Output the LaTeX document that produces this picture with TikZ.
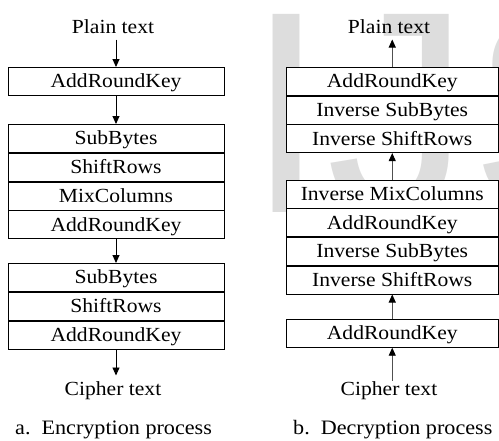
\documentclass[tikz,border=0pt]{standalone}
\usepackage{fontspec}
\setmainfont{Liberation Serif}[FakeStretch=1.08]
\newfontfamily\markfont{Liberation Sans}
\usetikzlibrary{arrows.meta}
\definecolor{markgray}{RGB}{221,221,221}
\definecolor{shaftgray}{RGB}{80,80,80}
\tikzset{
  stage/.style={draw=black, fill=white, line width=0.9pt, inner sep=0pt,
    text height=13pt, text depth=0pt, font=\fontsize{20}{24}\selectfont},
  encstage/.style={stage, minimum width=216pt, minimum height=27.9pt, anchor=north},
  decstage/.style={stage, minimum width=212.5pt, minimum height=27.8pt, anchor=north},
  endtext/.style={inner sep=0pt, outer sep=1.5pt, text height=13pt, text depth=5pt,
    anchor=base, font=\fontsize{20}{24}\selectfont},
  captiontext/.style={inner sep=0pt, anchor=base west, font=\fontsize{20.5}{24}\selectfont},
  downarrow/.style={line width=0.9pt, -{Triangle[width=7pt,length=8pt]}},
  uparrow/.style={line width=0.9pt, draw=shaftgray, -{Triangle[width=7pt,length=8pt,color=black]}},
}
\begin{document}
\begin{tikzpicture}[x=1pt,y=-1pt]
\useasboundingbox (0,0) rectangle (499,440);
\fill[white] (0,0) rectangle (499,440);
% faint background lettering
\node[anchor=base west, inner sep=0pt, text=markgray,
  font=\markfont\fontsize{288}{288}\selectfont] (mark) at (246,212) {IJS};

% ---------- encryption ----------
\node[endtext] (ptL) at (113,33) {Plain text};
\node[encstage] (e1) at (116,67) {AddRoundKey};
\node[encstage] (e2a) at (116,124) {SubBytes};
\node[encstage] (e2b) at (e2a.south) {ShiftRows};
\node[encstage] (e2c) at (e2b.south) {MixColumns};
\node[encstage] (e2d) at (e2c.south) {AddRoundKey};
\node[encstage] (e3a) at (116,263) {SubBytes};
\node[encstage] (e3b) at (e3a.south) {ShiftRows};
\node[encstage] (e3c) at (e3b.south) {AddRoundKey};
\node[endtext] (ctL) at (113,395) {Cipher text};
\node[captiontext] (capL) at (15,434) {a.\ \ Encryption process};

\draw[downarrow] (e1.north |- ptL.south) -- (e1.north);
\draw[downarrow] (e1.south) -- (e2a.north);
\draw[downarrow] (e2d.south) -- (e3a.north);
\draw[downarrow, shorten >=5pt] (e3c.south) -- (e3c.south |- ctL.north);

% ---------- decryption ----------
\node[endtext] (ptR) at (389,33) {Plain text};
\node[decstage] (d1a) at (392.25,67) {AddRoundKey};
\node[decstage] (d1b) at (d1a.south) {Inverse SubBytes};
\node[decstage] (d1c) at (d1b.south) {Inverse ShiftRows};
\node[decstage] (d2a) at (392.25,179.7) {Inverse MixColumns};
\node[decstage] (d2b) at (d2a.south) {AddRoundKey};
\node[decstage] (d2c) at (d2b.south) {Inverse SubBytes};
\node[decstage] (d2d) at (d2c.south) {Inverse ShiftRows};
\node[decstage] (d3) at (392.25,319) {AddRoundKey};
\node[endtext] (ctR) at (389,395) {Cipher text};
\node[captiontext] (capR) at (293,434) {b.\ \ Decryption process};

\draw[uparrow] (d1a.north) -- (d1a.north |- ptR.south);
\draw[uparrow] (d2a.north) -- (d1c.south);
\draw[uparrow] (d3.north) -- (d2d.south);
\draw[uparrow] (d3.south |- ctR.north) -- (d3.south);
\end{tikzpicture}
\end{document}
